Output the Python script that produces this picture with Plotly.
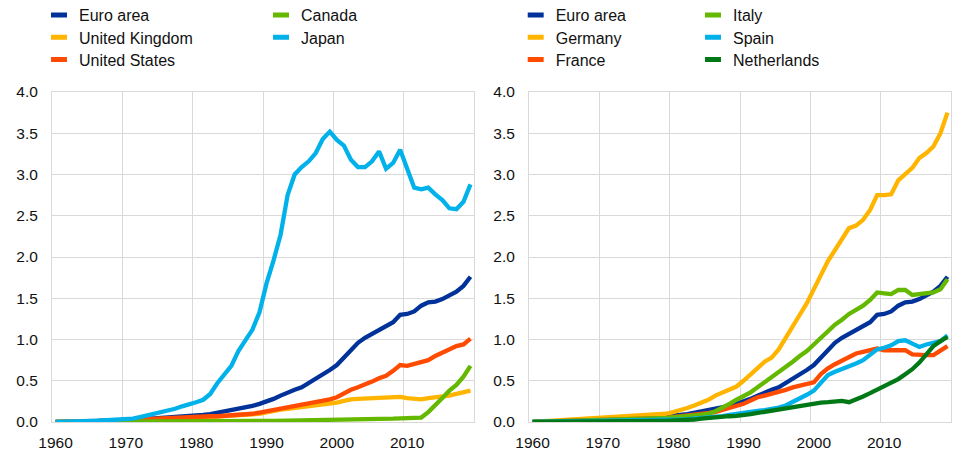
import plotly.graph_objects as go

years = list(range(1960, 2020))
decade_labels = ["1960", "1970", "1980", "1990", "2000", "2010"]
decade_years = [1960, 1970, 1980, 1990, 2000, 2010]
boundary_years = [1960, 1970, 1980, 1990, 2000, 2010, 2020]

euro_area = [0.00, 0.00, 0.005, 0.005, 0.01, 0.01, 0.012, 0.015, 0.015, 0.02,
             0.02, 0.025, 0.03, 0.035, 0.04, 0.045, 0.05, 0.055, 0.06, 0.07,
             0.075, 0.085, 0.095, 0.11, 0.125, 0.14, 0.155, 0.175, 0.195, 0.22,
             0.245, 0.28, 0.32, 0.36, 0.39, 0.42, 0.47, 0.53, 0.58, 0.63,
             0.69, 0.78, 0.88, 0.96, 1.02, 1.07, 1.12, 1.16, 1.21, 1.30,
             1.31, 1.34, 1.41, 1.45, 1.46, 1.49, 1.53, 1.58, 1.65, 1.76]

united_kingdom = [0, 0, 0.005, 0.005, 0.005, 0.01, 0.01, 0.01, 0.015, 0.015,
                  0.02, 0.02, 0.025, 0.03, 0.03, 0.035, 0.035, 0.04, 0.04, 0.045,
                  0.05, 0.05, 0.055, 0.06, 0.065, 0.07, 0.075, 0.08, 0.09, 0.10,
                  0.115, 0.135, 0.15, 0.16, 0.17, 0.18, 0.19, 0.20, 0.21, 0.225,
                  0.235, 0.255, 0.275, 0.28, 0.285, 0.29, 0.30, 0.30, 0.305, 0.305,
                  0.29, 0.28, 0.275, 0.29, 0.30, 0.305, 0.32, 0.34, 0.36, 0.38]

united_states = [0.00, 0.00, 0.005, 0.005, 0.01, 0.01, 0.01, 0.015, 0.015, 0.02,
                 0.02, 0.025, 0.03, 0.035, 0.04, 0.04, 0.045, 0.05, 0.05, 0.055,
                 0.06, 0.065, 0.07, 0.07, 0.075, 0.08, 0.085, 0.09, 0.10, 0.115,
                 0.13, 0.15, 0.165, 0.175, 0.19, 0.21, 0.225, 0.24, 0.26, 0.275,
                 0.30, 0.35, 0.39, 0.42, 0.45, 0.49, 0.53, 0.56, 0.62, 0.69,
                 0.68, 0.70, 0.72, 0.75, 0.80, 0.84, 0.88, 0.92, 0.94, 1.01]

canada = [0, 0, 0, 0, 0, 0.002, 0.002, 0.003, 0.003, 0.004,
          0.004, 0.005, 0.005, 0.005, 0.006, 0.006, 0.007, 0.007, 0.008, 0.008,
          0.009, 0.009, 0.01, 0.01, 0.01, 0.011, 0.011, 0.012, 0.012, 0.013,
          0.013, 0.014, 0.015, 0.015, 0.016, 0.017, 0.018, 0.019, 0.02, 0.02,
          0.022, 0.024, 0.026, 0.028, 0.03, 0.032, 0.035, 0.038, 0.04, 0.045,
          0.048, 0.05, 0.054, 0.12, 0.20, 0.29, 0.38, 0.45, 0.55, 0.68]

japan = [0.00, 0.00, 0.005, 0.01, 0.01, 0.012, 0.015, 0.018, 0.02, 0.025,
         0.03, 0.04, 0.06, 0.08, 0.10, 0.12, 0.13, 0.16, 0.19, 0.21,
         0.24, 0.27, 0.34, 0.47, 0.58, 0.68, 0.86, 1.00, 1.12, 1.33,
         1.68, 1.96, 2.27, 2.75, 3.00, 3.09, 3.16, 3.26, 3.43, 3.52,
         3.42, 3.35, 3.18, 3.09, 3.09, 3.16, 3.28, 3.07, 3.14, 3.30,
         3.06, 2.84, 2.82, 2.84, 2.76, 2.69, 2.59, 2.58, 2.67, 2.88]

germany = [0.00, 0.005, 0.01, 0.015, 0.02, 0.025, 0.03, 0.03, 0.035, 0.04,
           0.045, 0.05, 0.055, 0.06, 0.065, 0.07, 0.075, 0.08, 0.09, 0.10,
           0.12, 0.14, 0.17, 0.20, 0.23, 0.27, 0.32, 0.36, 0.39, 0.43,
           0.50, 0.58, 0.66, 0.73, 0.78, 0.88, 1.02, 1.17, 1.30, 1.44,
           1.60, 1.78, 1.95, 2.09, 2.23, 2.35, 2.38, 2.45, 2.57, 2.75,
           2.75, 2.76, 2.93, 3.00, 3.08, 3.20, 3.26, 3.34, 3.50, 3.75]

france = [0, 0.002, 0.004, 0.006, 0.008, 0.01, 0.012, 0.014, 0.016, 0.018,
          0.02, 0.022, 0.025, 0.028, 0.03, 0.035, 0.038, 0.042, 0.046, 0.05,
          0.06, 0.065, 0.075, 0.085, 0.095, 0.11, 0.12, 0.145, 0.17, 0.195,
          0.22, 0.26, 0.30, 0.32, 0.34, 0.36, 0.39, 0.42, 0.44, 0.45,
          0.48, 0.58, 0.65, 0.70, 0.74, 0.78, 0.83, 0.85, 0.87, 0.89,
          0.87, 0.87, 0.88, 0.87, 0.82, 0.81, 0.81, 0.81, 0.86, 0.92]

italy = [0, 0.002, 0.004, 0.006, 0.008, 0.01, 0.012, 0.014, 0.016, 0.018,
         0.02, 0.022, 0.025, 0.028, 0.03, 0.035, 0.038, 0.042, 0.046, 0.05,
         0.055, 0.06, 0.07, 0.08, 0.09, 0.10, 0.13, 0.17, 0.22, 0.27,
         0.31, 0.36, 0.42, 0.48, 0.54, 0.61, 0.67, 0.73, 0.80, 0.86,
         0.94, 1.02, 1.10, 1.18, 1.24, 1.31, 1.36, 1.41, 1.48, 1.57,
         1.56, 1.55, 1.60, 1.60, 1.54, 1.55, 1.56, 1.57, 1.61, 1.73]

spain = [0, 0.001, 0.002, 0.003, 0.004, 0.005, 0.006, 0.007, 0.008, 0.009,
         0.01, 0.011, 0.012, 0.013, 0.014, 0.015, 0.017, 0.019, 0.021, 0.023,
         0.025, 0.03, 0.035, 0.04, 0.045, 0.05, 0.06, 0.07, 0.085, 0.10,
         0.115, 0.125, 0.135, 0.145, 0.155, 0.175, 0.20, 0.24, 0.28, 0.33,
         0.38, 0.48, 0.57, 0.61, 0.64, 0.67, 0.71, 0.75, 0.81, 0.88,
         0.90, 0.93, 0.98, 0.99, 0.95, 0.91, 0.94, 0.96, 0.98, 1.05]

netherlands = [0, 0, 0.001, 0.001, 0.002, 0.002, 0.003, 0.003, 0.004, 0.004,
               0.005, 0.005, 0.006, 0.007, 0.008, 0.009, 0.01, 0.011, 0.012, 0.014,
               0.016, 0.02, 0.025, 0.03, 0.04, 0.05, 0.055, 0.06, 0.07, 0.075,
               0.08, 0.095, 0.11, 0.125, 0.14, 0.15, 0.17, 0.185, 0.20, 0.215,
               0.225, 0.235, 0.24, 0.25, 0.255, 0.24, 0.27, 0.31, 0.35, 0.39,
               0.43, 0.47, 0.52, 0.58, 0.64, 0.72, 0.82, 0.92, 0.98, 1.03]

y_ticks = [0.0, 0.5, 1.0, 1.5, 2.0, 2.5, 3.0, 3.5, 4.0]

C_EURO = "#003299"
C_YELLOW = "#ffb400"
C_RED = "#ff4b00"
C_GREEN = "#65b800"
C_LBLUE = "#00b1ea"
C_DGREEN = "#007816"
GRID = "#d9d9d9"
FONT = "Liberation Sans, Arial, sans-serif"
TXT = "#111111"

left_series = [("Euro area", euro_area, C_EURO),
               ("United Kingdom", united_kingdom, C_YELLOW),
               ("United States", united_states, C_RED),
               ("Canada", canada, C_GREEN),
               ("Japan", japan, C_LBLUE)]
right_series = [("Euro area", euro_area, C_EURO),
                ("Germany", germany, C_YELLOW),
                ("France", france, C_RED),
                ("Italy", italy, C_GREEN),
                ("Spain", spain, C_LBLUE),
                ("Netherlands", netherlands, C_DGREEN)]

W, H = 955, 452
ML, MR, MT, MB = 52, 4, 92, 30
PW = W - ML - MR
PH = H - MT - MB
LEG_FONT = 16

def px_x(p):
    return (p - ML) / PW

def px_y_top(p):
    return 1 + (MT - p) / PH

# legend layout: (text start x, row centre y) per entry, column-major like reference
left_slots = [(79, 15), (79, 37.3), (79, 59.6), (301, 15), (301, 37.3)]
right_slots = [(555.7, 15), (555.7, 37.3), (555.7, 59.6),
               (733, 15), (733, 37.3), (733, 59.6)]

fig = go.Figure()
legend_defs = {}
leg_idx = [0]

def next_legend_name():
    leg_idx[0] += 1
    return "legend" if leg_idx[0] == 1 else f"legend{leg_idx[0]}"

item_h = LEG_FONT * 1.3 + 3

for series, slots, xa, ya in [(left_series, left_slots, "x", "y"),
                              (right_series, right_slots, "x2", "y2")]:
    for name, vals, col in series:
        fig.add_trace(go.Scatter(x=years, y=vals, mode="lines", name=name,
                                 line=dict(color=col, width=4.3),
                                 xaxis=xa, yaxis=ya, showlegend=False))
    for (name, vals, col), (tx, ty) in zip(series, slots):
        lname = next_legend_name()
        fig.add_trace(go.Scatter(x=[None], y=[None], mode="markers", name=name,
                                 marker=dict(symbol="line-ew", size=11.4, color=col,
                                             line=dict(width=5, color=col)),
                                 xaxis=xa, yaxis=ya, showlegend=True,
                                 legend=lname, hoverinfo="skip"))
        legend_defs[lname] = dict(
            orientation="v", xanchor="left", yanchor="top",
            x=px_x(tx - 40), y=px_y_top(ty - 5 - item_h / 2),
            bgcolor="rgba(0,0,0,0)", borderwidth=0, tracegroupgap=0,
            font=dict(family=FONT, size=LEG_FONT, color=TXT),
            itemclick=False, itemdoubleclick=False)

xcommon = dict(range=[1959.5, 2019.5], tickmode="array", tickvals=decade_years,
               ticktext=decade_labels, showgrid=False, zeroline=False,
               showline=True, mirror=True, linecolor=GRID, linewidth=1,
               ticks="", ticklabelstandoff=6,
               tickfont=dict(family=FONT, size=15.5, color=TXT),
               minor=dict(tickmode="array", tickvals=[b - 0.5 for b in boundary_years],
                          showgrid=True, gridcolor=GRID, gridwidth=1, ticks=""))
ycommon = dict(range=[0, 4], tickmode="array", tickvals=y_ticks, tickformat=".1f",
               showgrid=True, gridcolor=GRID, gridwidth=1, zeroline=False,
               showline=True, mirror=True, linecolor=GRID, linewidth=1,
               ticks="", ticklabelstandoff=10,
               tickfont=dict(family=FONT, size=15.5, color=TXT))

fig.update_layout(
    width=W, height=H,
    margin=dict(l=ML, r=MR, t=MT, b=MB, autoexpand=False),
    paper_bgcolor="white", plot_bgcolor="white",
    font=dict(family=FONT, size=15, color=TXT),
    xaxis=dict(domain=[0, px_x(474)], **xcommon),
    yaxis=dict(domain=[0, 1], anchor="x", **ycommon),
    xaxis2=dict(domain=[px_x(529), 1], anchor="y2", **xcommon),
    yaxis2=dict(domain=[0, 1], anchor="x2", **ycommon),
    hovermode=False,
    **legend_defs,
)

fig.write_html("out.html",
               config={"displayModeBar": False},
               post_script="document.body.style.margin='0';document.body.style.padding='0';")
